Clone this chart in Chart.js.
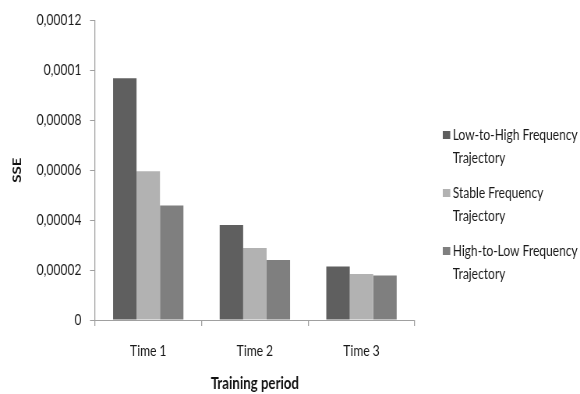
<!DOCTYPE html>
<html><head><meta charset="utf-8">
<script src="https://cdn.jsdelivr.net/npm/chart.js@4/dist/chart.umd.min.js"></script>
<style>html,body{margin:0;padding:0;background:#fff;overflow:hidden}#wrap{width:580px;height:394px}</style>
</head><body><div id="wrap"><canvas id="c"></canvas></div>
<script>
const categories = ["Time 1", "Time 2", "Time 3"];
const legendLabels = [["Low-to-High Frequency", "Trajectory"], ["Stable Frequency", "Trajectory"], ["High-to-Low Frequency", "Trajectory"]];
const lowToHigh = [0.0000968, 0.0000380, 0.0000214];
const stable = [0.0000596, 0.0000288, 0.0000184];
const highToLow = [0.0000458, 0.0000240, 0.0000178];
const yTickStep = 0.00002;
const yMax = 0.00012;

const colors = ["#5f5f5f", "#b2b2b2", "#7f7f7f"];
const FONT = "Lato, 'Open Sans', sans-serif";
// the reference picture is horizontally compressed; draw wider and squeeze
const SQ = 0.78;
const W = Math.round(580 / SQ);
const X = v => v / SQ;

const canvas = document.getElementById('c');
canvas.width = W; canvas.height = 394;
canvas.style.width = '580px'; canvas.style.height = '394px';

const legendPlugin = {
  id: 'sideLegend',
  afterDraw(chart) {
    const ctx = chart.ctx;
    ctx.save();
    ctx.font = "15.5px " + FONT;
    ctx.textBaseline = 'middle';
    const target = X(125);
    const sx = target / ctx.measureText(legendLabels[0][0]).width;
    const bx = X(443), tx = X(453), rows = [135, 193, 251];
    chart.data.datasets.forEach((ds, i) => {
      ctx.fillStyle = ds.backgroundColor;
      ctx.fillRect(bx, rows[i] - 4, X(7.5), 8);
      ctx.fillStyle = '#1a1a1a';
      ds.legendLines.forEach((t, j) => {
        ctx.save();
        ctx.translate(tx, rows[i] + j * 23);
        ctx.scale(sx, 1);
        ctx.fillText(t, 0, 0);
        ctx.restore();
      });
    });
    ctx.restore();
  }
};

const fmt = v => Number(Number(v).toFixed(6)).toString().replace('.', ',');

new Chart(canvas, {
  type: 'bar',
  data: {
    labels: categories,
    datasets: [
      { label: legendLabels[0].join(' '), legendLines: legendLabels[0], data: lowToHigh, backgroundColor: colors[0] },
      { label: legendLabels[1].join(' '), legendLines: legendLabels[1], data: stable, backgroundColor: colors[1] },
      { label: legendLabels[2].join(' '), legendLines: legendLabels[2], data: highToLow, backgroundColor: colors[2] }
    ]
  },
  options: {
    responsive: false,
    animation: false,
    layout: { padding: { top: 20, right: W - X(415), bottom: 0, left: 0 } },
    datasets: { bar: { barPercentage: 1, categoryPercentage: 0.66 } },
    plugins: { legend: { display: false }, tooltip: { enabled: false } },
    scales: {
      x: {
        afterFit: s => { s.height = 74; },
        grid: { display: true, drawOnChartArea: false, color: '#a0a0a0', lineWidth: 1.3, tickLength: 6, offset: true },
        border: { color: '#a0a0a0', width: 1 },
        ticks: { color: '#1a1a1a', font: { family: FONT, size: 15.5 }, padding: 16 },
        title: { display: true, text: 'Training period', color: '#111', font: { family: FONT, size: 17, weight: 'bold' }, padding: { top: 0, bottom: 0 } }
      },
      y: {
        min: 0, max: yMax,
        afterFit: s => { s.width = X(95); },
        grid: { display: true, drawOnChartArea: false, color: '#a0a0a0', tickLength: X(5) },
        border: { color: '#a0a0a0', width: 1.3 },
        ticks: { stepSize: yTickStep, color: '#1a1a1a', font: { family: FONT, size: 15.5 }, padding: 11, callback: v => fmt(v) },
        title: { display: true, text: 'SSE', color: '#111', font: { family: FONT, size: 15, weight: 'bold' }, padding: { top: 13, bottom: 0 } }
      }
    }
  },
  plugins: [legendPlugin]
});
</script></body></html>
